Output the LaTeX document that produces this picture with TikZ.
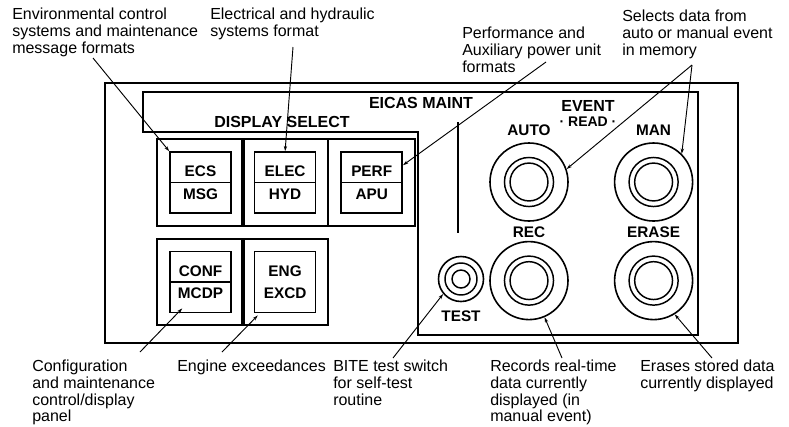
\documentclass[tikz,border=0pt]{standalone}
\usepackage{fontspec}
\setmainfont{Liberation Sans}
\usetikzlibrary{arrows.meta, positioning, fit, calc}

\begin{document}
\begin{tikzpicture}[
  x=0.75pt, y=-0.75pt,
  every node/.style={inner sep=0pt},
  note/.style={align=left, anchor=north west, font=\fontsize{12}{12.5}\selectfont},
  cell/.style={draw, line width=1.2pt, minimum width=45.75pt, minimum height=45.75pt,
               align=center, font=\bfseries\fontsize{11.5}{17}\selectfont},
  grp/.style={draw, line width=1.6pt, inner sep=9pt},
  knob/.style args={#1/#2/#3}{circle, draw, line width=1.2pt, minimum size=#1,
               path picture={\draw[line width=1.1pt] (path picture bounding box.center)
                 circle[radius=#2] circle[radius=#3];}},
  key/.style={font=\bfseries\fontsize{11.5}{13}\selectfont},
  head/.style={font=\bfseries\fontsize{12}{14}\selectfont},
  lead/.style={-{Stealth[length=4pt, width=2.5pt]}, line width=0.7pt}
]
\useasboundingbox (0,0) rectangle (789,426);

% panel outlines
\draw[line width=1.5pt] (105,83) rectangle (738,343);
\draw[line width=1.3pt] (143,92) -- (698,92) -- (698,335) -- (418,335)
  -- (418,132) -- (143,132) -- cycle;
\draw[line width=2pt] (458,122) -- (458,233);

% headings
\node[head] (eicas) at (421,103) {EICAS MAINT};
\node[head] (dispsel) at (282,122) {DISPLAY SELECT};
\node[head] (event) at (588,106) {EVENT};
\node[key, font=\bfseries\fontsize{10.5}{12}\selectfont] (read) at (588,122) {· READ ·};

% display select keys
\node[cell] (ecs) at (200.5,182.5) {ECS\\MSG};
\node[cell, right=16.5pt of ecs] (elec) {ELEC\\HYD};
\node[cell, right=18pt of elec] (perf) {PERF\\APU};
\node[cell, below=27.75pt of ecs] (conf) {CONF\\MCDP};
\node[cell, right=16.5pt of conf] (eng) {ENG\\EXCD};

\foreach \c in {ecs,elec,perf,conf}
  \draw[line width=1.2pt] (\c.west) -- (\c.east);
\foreach \c in {ecs,elec,perf,conf,eng}
  \node[grp, fit=(\c)] (\c-grp) {};

% event read switches
\node[knob=58.5pt/18.4pt/14.2pt] (auto) at (529,182) {};
\node[knob=58.5pt/18.4pt/14.2pt, right=33.75pt of auto] (man) {};
\node[knob=58.5pt/18.4pt/14.2pt, below=14.25pt of auto] (rec) {};
\node[knob=58.5pt/18.4pt/14.2pt, right=33.75pt of rec] (erase) {};
\node[knob=33.75pt/12pt/6.75pt] (test) at (461,279) {};

\node[key, above=4.5pt of auto] (autolbl) {AUTO};
\node[key, above=4.5pt of man] (manlbl) {MAN};
\node[key, above=2pt of rec] (reclbl) {REC};
\node[key, above=2pt of erase] (eraselbl) {ERASE};
\node[key, below=6.5pt of test] (testlbl) {TEST};

% callouts
\node[note] (envfmt) at (12,8) {Environmental control\\systems and maintenance\\message formats};
\node[note] (elecfmt) at (210,8) {Electrical and hydraulic\\systems format};
\node[note] (perffmt) at (462,27) {Performance and\\Auxiliary power unit\\formats};
\node[note] (selects) at (622,10) {Selects data from\\auto or manual event\\in memory};
\node[note] (confpnl) at (32,360) {Configuration\\and maintenance\\control/display\\panel};
\node[note] (engexc) at (177,360) {Engine exceedances};
\node[note] (bitesw) at (333,360) {BITE test switch\\for self-test\\routine};
\node[note] (records) at (490,360) {Records real-time\\data currently\\displayed (in\\manual event)};
\node[note] (erases) at (640,360) {Erases stored data\\currently displayed};

\coordinate (envend) at (93,58);
\coordinate (elecend) at (293,47);
\coordinate (perfend) at (546,62);
\coordinate (selend) at (692,65);
\coordinate (confend) at (140,352);
\coordinate (engend) at (222,352);
\coordinate (biteend) at (393,358);
\coordinate (recend) at (562,358);
\coordinate (eraseend) at (712,358);

\draw[lead] (envend) -- (ecs.north west);
\draw[lead] (elecend) -- (elec.north);
\draw[lead] (perfend) -- ([yshift=13pt]perf.east);
\draw[lead] (selend) -- (auto.19);
\draw[lead] (selend) -- (man.45);
\draw[lead] (confend) -- ($(conf.south west)+(13,-5)$);
\draw[lead] (engend) -- ($(eng.south west)+(4,2)$);
\draw[lead] (biteend) -- (test.220);
\draw[lead] (recend) -- (rec.293);
\draw[lead] (eraseend) -- (erase.302);

\end{tikzpicture}
\end{document}
